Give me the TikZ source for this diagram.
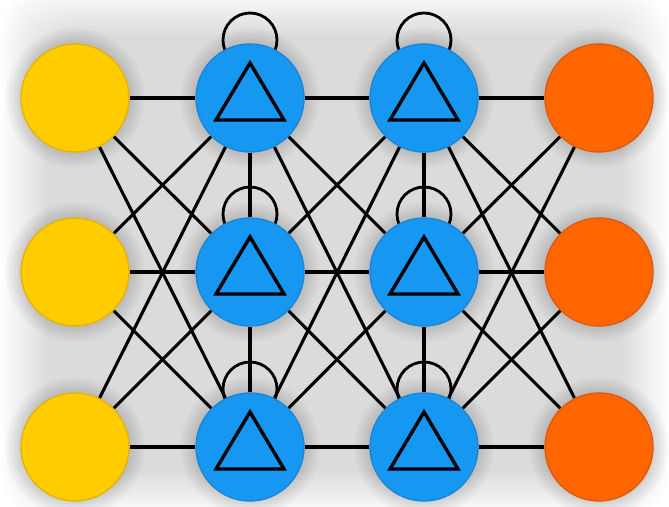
\documentclass[tikz,border=0pt]{standalone}
\usetikzlibrary{calc}
\definecolor{inyellow}{HTML}{FFCC00}
\definecolor{inyellowedge}{HTML}{E6B400}
\definecolor{hidblue}{HTML}{1597F2}
\definecolor{hidblueedge}{HTML}{1C86D6}
\definecolor{outorange}{HTML}{FF6600}
\definecolor{outorangeedge}{HTML}{E05A08}
\pgfdeclarelayer{haze}
\pgfdeclarelayer{wires}
\pgfsetlayers{haze,wires,main}
\tikzset{
  unit/.style={circle, minimum size=108pt, inner sep=0pt, line width=1.4pt},
  inunit/.style={unit, fill=inyellow, draw=inyellowedge},
  hidunit/.style={unit, fill=hidblue, draw=hidblueedge},
  outunit/.style={unit, fill=outorange, draw=outorangeedge},
  link/.style={line width=3.1pt, black},
  selfloop/.style={line width=2.8pt, black},
  glyph/.style={line width=3.4pt, black, line join=miter},
}
\begin{document}
\begin{tikzpicture}[x=1pt,y=-1pt]
\useasboundingbox (0,0) rectangle (669,506);

% units: input, two hidden layers, output
\foreach \r/\y in {1/98,2/272,3/447}{
  \node[inunit]  (i\r) at (75,\y)  {};
  \node[hidunit] (h\r) at (250,\y) {};
  \node[hidunit] (g\r) at (424,\y) {};
  \node[outunit] (o\r) at (599,\y) {};
}

% white sheet with a soft grey halo behind the network
\begin{pgfonlayer}{haze}
  \fill[white] (0,0) rectangle (669,506);
  \foreach \d in {0,4,...,44}
    \fill[black, opacity=0.012, rounded corners=40pt]
      (2+\d,-10+\d) rectangle (667-\d,516-\d);
  \foreach \n in {i1,i2,i3,h1,h2,h3,g1,g2,g3,o1,o2,o3}
    \foreach \k in {0,2,...,14}
      \fill[black, opacity=0.016] (\n.center) circle[radius=56+\k];
\end{pgfonlayer}

% connections
\begin{pgfonlayer}{wires}
  \foreach \a in {1,2,3}
    \foreach \b in {1,2,3}{
      \draw[link] (i\a) -- (h\b);
      \draw[link] (h\a) -- (g\b);
      \draw[link] (g\a) -- (o\b);
    }
  \draw[link] (h1) -- (h2);
  \draw[link] (h2) -- (h3);
  \draw[link] (g1) -- (g2);
  \draw[link] (g2) -- (g3);
  \foreach \n in {h1,h2,h3,g1,g2,g3}
    \draw[selfloop] ($(\n.center)+(0,-58)$) circle[radius=27];
\end{pgfonlayer}

% triangle glyph in each hidden unit
\foreach \n in {h1,h2,h3,g1,g2,g3}
  \draw[glyph] ($(\n.center)+(0,-35)$) -- ($(\n.center)+(-34,22)$)
    -- ($(\n.center)+(34,22)$) -- cycle;
\end{tikzpicture}
\end{document}
